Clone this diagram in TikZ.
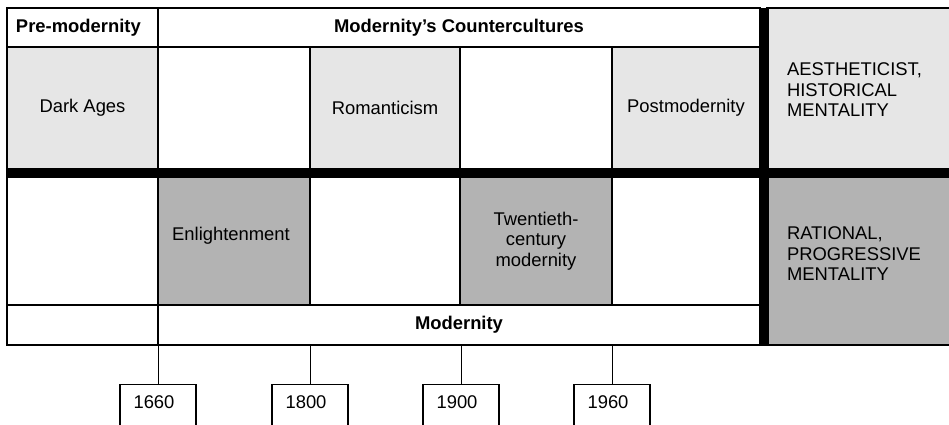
\documentclass[tikz,border=0pt]{standalone}
\usepackage{fontspec}
\setmainfont{Liberation Sans}
\definecolor{lightg}{HTML}{E6E6E6}
\definecolor{darkg}{HTML}{B3B3B3}
\begin{document}
\begin{tikzpicture}[x=1pt,y=-1pt,
  txtfont/.style={font=\fontsize{18.4}{20.5}\selectfont},
  cell/.style={draw, line width=1.3pt, inner sep=0pt, txtfont, align=center},
  light/.style={fill=lightg},
  dark/.style={fill=darkg},
  plain/.style={fill=white},
  txt/.style={inner sep=0pt, txtfont},
  yearbox/.style={draw, line width=1.3pt, fill=white, inner sep=0pt, minimum width=76pt, minimum height=60pt, anchor=north},
  tick/.style={draw, line width=0.9pt},
  thick bar/.style={fill=black}
]
\useasboundingbox (0,0) rectangle (949,424);
\clip (0,0) rectangle (949,424);
% right boxes
\node[cell, light, minimum width=190pt, minimum height=161pt] (aesbox) at (862,88.5) {};
\node[txt, text width=146pt, align=left] (aes) at (860,90) {AESTHETICIST,\\HISTORICAL\\MENTALITY};
\node[cell, dark, minimum width=190pt, minimum height=168pt] (ratbox) at (862,261) {};
\node[txt, text width=146pt, align=left] (rat) at (860,254) {RATIONAL,\\PROGRESSIVE\\MENTALITY};
% header row
\node[cell, plain, minimum width=151pt, minimum height=39pt, text width=133pt, align=left] (pre) at (82.5,27.5) {\bfseries Pre-modernity};
\node[cell, plain, minimum width=602pt, minimum height=39pt] (counter) at (459,27.5) {\bfseries Modernity’s Countercultures};
% upper row
\node[cell, light, minimum width=151pt, minimum height=122pt] (dark) at (82.5,108) {Dark Ages};
\node[cell, plain, minimum width=152pt, minimum height=122pt] (ua) at (234,108) {};
\node[cell, light, minimum width=150pt, minimum height=122pt] (rom) at (385,108) {Romanticism};
\node[cell, plain, minimum width=152pt, minimum height=122pt] (ub) at (536,108) {};
\node[cell, light, minimum width=148pt, minimum height=122pt] (post) at (686,108) {Postmodernity};
% lower row
\node[cell, plain, minimum width=151pt, minimum height=128pt] (la) at (82.5,241) {};
\node[cell, dark, minimum width=152pt, minimum height=128pt] (enl) at (234,241) {};
\node[txt] (enltxt) at (231,236) {Enlightenment};
\node[cell, plain, minimum width=150pt, minimum height=128pt] (lb) at (385,241) {};
\node[cell, dark, minimum width=152pt, minimum height=128pt, text width=140pt] (twen) at (536,241) {Twentieth-\\century\\modernity};
\node[cell, plain, minimum width=148pt, minimum height=128pt] (lc) at (686,241) {};
% bottom row
\node[cell, plain, minimum width=151pt, minimum height=40pt] (ba) at (82.5,325) {};
\node[cell, plain, minimum width=602pt, minimum height=40pt] (modern) at (459,325) {\bfseries Modernity};
% thick dividers
\fill[thick bar] (6.35,169) rectangle (955,177.5);
\fill[thick bar] (759.5,7.5) rectangle (768.5,345.5);
% year boxes
\node[yearbox] (y1660) at (158,384) {};
\node[yearbox] (y1800) at (310,384) {};
\node[yearbox] (y1900) at (461,384) {};
\node[yearbox] (y1960) at (612,384) {};
\node[txt] (t1660) at ([xshift=-4pt,yshift=-18pt]y1660.north) {1660};
\node[txt] (t1800) at ([xshift=-4pt,yshift=-18pt]y1800.north) {1800};
\node[txt] (t1900) at ([xshift=-4pt,yshift=-18pt]y1900.north) {1900};
\node[txt] (t1960) at ([xshift=-4pt,yshift=-18pt]y1960.north) {1960};
% ticks
\draw[tick] (y1660.north) -- (y1660.north |- modern.south);
\draw[tick] (y1800.north) -- (y1800.north |- modern.south);
\draw[tick] (y1900.north) -- (y1900.north |- modern.south);
\draw[tick] (y1960.north) -- (y1960.north |- modern.south);
\end{tikzpicture}
\end{document}
